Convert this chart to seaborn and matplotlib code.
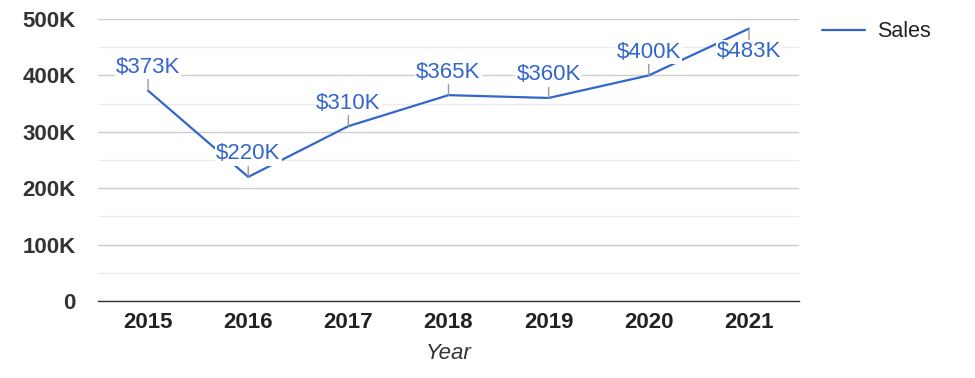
import matplotlib
matplotlib.use("Agg")
import matplotlib.pyplot as plt
import seaborn as sns
import pandas as pd
from matplotlib.ticker import MultipleLocator

years = [2015, 2016, 2017, 2018, 2019, 2020, 2021]
sales = [373000, 220000, 310000, 365000, 360000, 400000, 483000]
labels = ["$373K", "$220K", "$310K", "$365K", "$360K", "$400K", "$483K"]
label_below = [False, False, False, False, False, False, True]
y_ticks = [0, 100000, 200000, 300000, 400000, 500000]
y_tick_labels = ["0", "100K", "200K", "300K", "400K", "500K"]

df = pd.DataFrame({"Year": years, "Sales": sales})

sns.set_theme(style="white")
plt.rcParams["font.family"] = ["Liberation Sans", "DejaVu Sans"]

blue = "#3366CC"
fig = plt.figure(figsize=(9.75, 3.78), dpi=100)
ax = fig.add_axes([0.1005, 0.2037, 0.7190, 0.7460])

sns.lineplot(data=df, x="Year", y="Sales", ax=ax, color=blue, linewidth=1.6,
             label="Sales", zorder=3)

ax.set_xlim(2014.5, 2021.5)
ax.set_ylim(0, 500000)
ax.set_xticks(years)
ax.set_xticklabels([str(y) for y in years], fontsize=16, fontweight="bold", color="#222222")
ax.set_yticks(y_ticks)
ax.set_yticklabels(y_tick_labels, fontsize=16, fontweight="bold", color="#333333")
ax.yaxis.set_minor_locator(MultipleLocator(50000))
ax.tick_params(axis="y", which="both", length=0, pad=16)
ax.tick_params(axis="x", length=0, pad=8)
ax.grid(True, axis="y", which="major", color="#cccccc", linewidth=1, zorder=0)
ax.grid(True, axis="y", which="minor", color="#ebebeb", linewidth=1, zorder=0)
ax.grid(False, axis="x")
for s in ["top", "right", "left"]:
    ax.spines[s].set_visible(False)
ax.spines["bottom"].set_color("#333333")
ax.spines["bottom"].set_linewidth(1)
ax.spines["bottom"].set_zorder(4)
ax.set_axisbelow(True)

ax.set_ylabel("")
ax.set_xlabel("Year", fontsize=16, fontstyle="italic", color="#333333", labelpad=7)

for x, y, lab, below in zip(years, sales, labels, label_below):
    off = -9 if below else 9
    ax.annotate(lab, xy=(x, y), xytext=(0, off), textcoords="offset points",
                ha="center", va="top" if below else "bottom",
                fontsize=16, color=blue, zorder=5,
                bbox=dict(boxstyle="square,pad=0.05", fc="white", ec="none"),
                arrowprops=dict(arrowstyle="-", color="#999999", lw=1,
                                shrinkA=0, shrinkB=0))

leg = ax.legend(loc="upper left", bbox_to_anchor=(1.005, 1.06), frameon=False,
                fontsize=15.5, handlelength=2.0, handletextpad=0.55)
for t in leg.get_texts():
    t.set_color("#222222")

fig.savefig("out.png", dpi=100)
